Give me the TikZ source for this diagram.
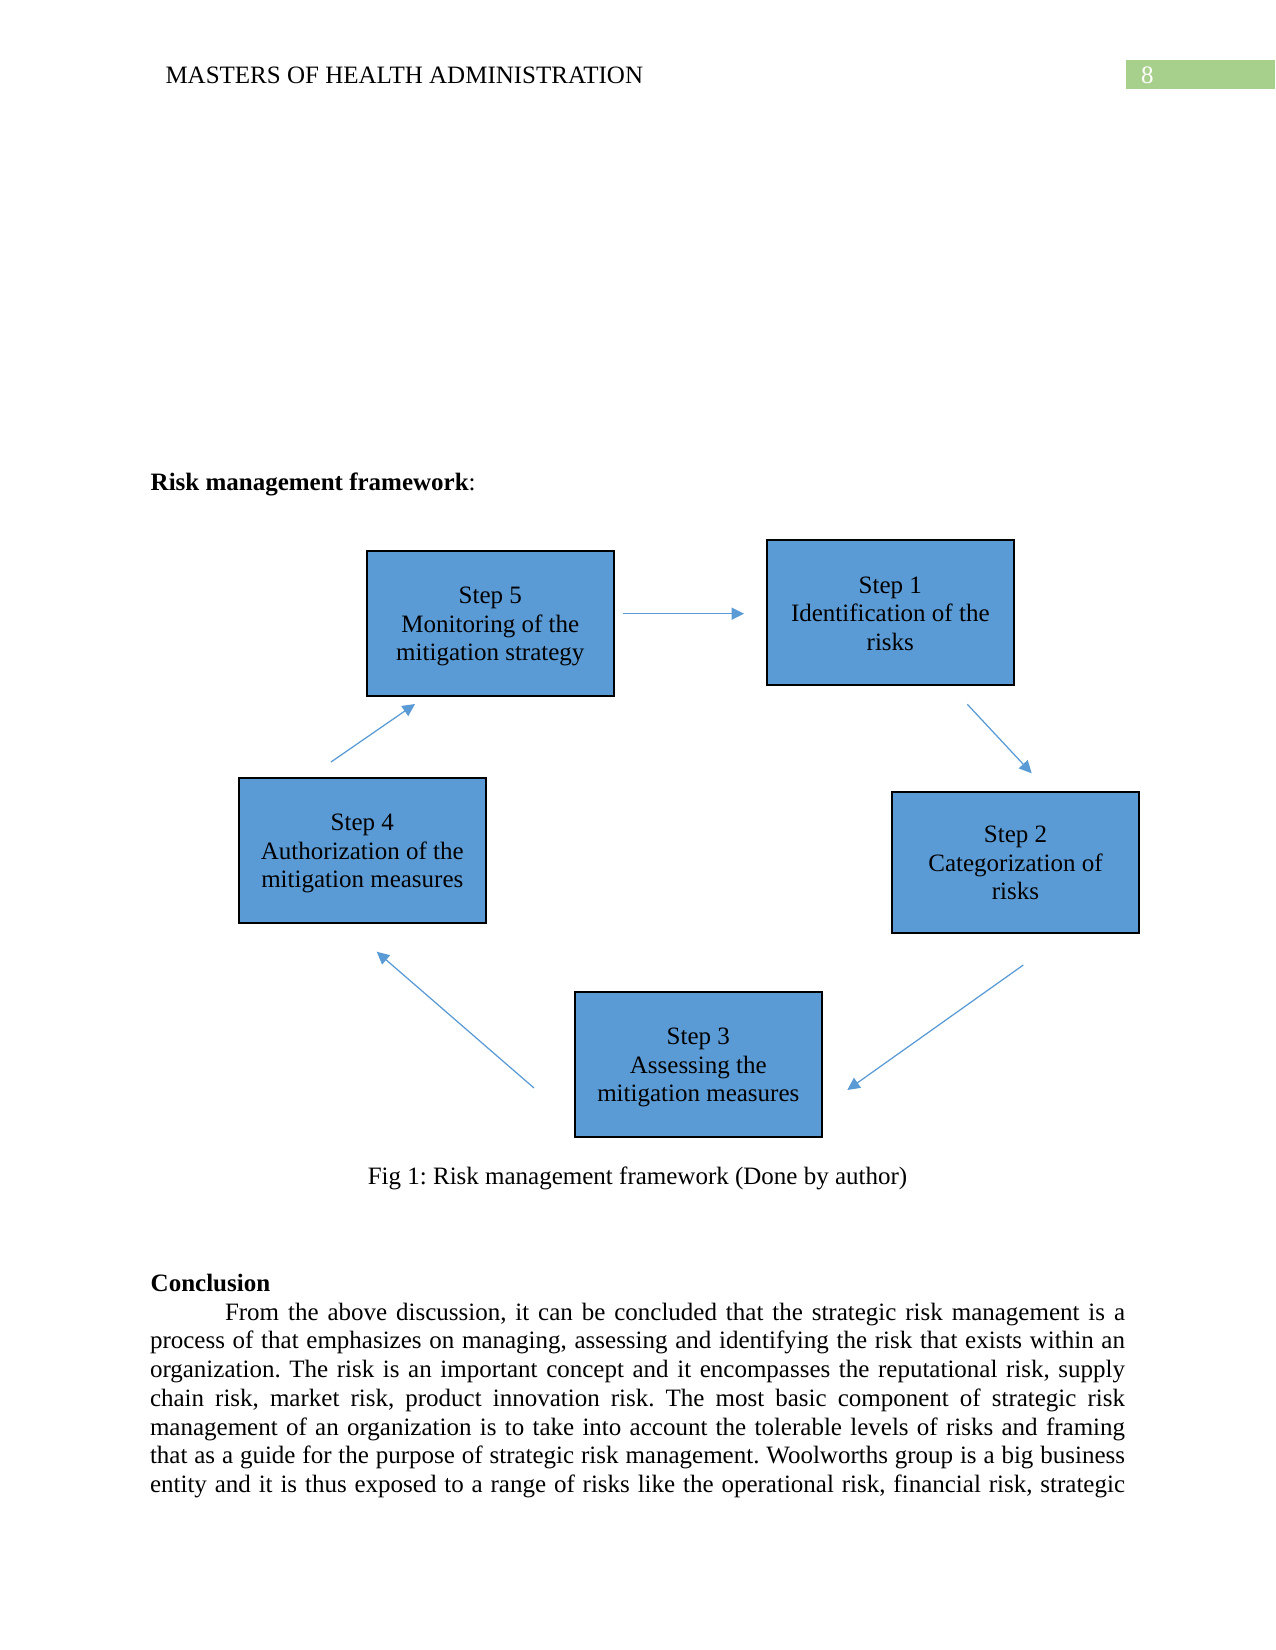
\documentclass[tikz,border=0pt]{standalone}
\usepackage{fontspec}
\setmainfont{Liberation Serif}
\usetikzlibrary{arrows.meta}
\definecolor{boxblue}{HTML}{5B9BD5}
\definecolor{bargreen}{HTML}{A8D08D}
\newcommand\rmfboxtext[3]{\rule{0pt}{11.5pt}#1\\#2\\#3\rule[-2.9pt]{0pt}{2.9pt}}
\frenchspacing
\begin{document}
\begin{tikzpicture}[x=0.48pt,y=-0.48pt,
  every node/.style={font=\fontsize{12pt}{13.8pt}\selectfont\frenchspacing, inner sep=0pt, outer sep=0pt},
  stepbox/.style={draw=black, line width=1pt, fill=boxblue, minimum width=118.7pt, minimum height=69.6pt, align=center},
  flow/.style={draw=boxblue, line width=0.6pt, -{Triangle[length=6pt,width=5.8pt]}},
  bodyline/.style={anchor=base west}]
\path[use as bounding box, fill=white] (0,0) rectangle (1275,1650);

% header
\node[anchor=base west] (header) at (165.5,83.3) {MASTERS OF HEALTH ADMINISTRATION};
\node[anchor=north west, fill=bargreen, minimum width=71.5pt, minimum height=13.7pt] (greenbar) at (1126,60.5) {};
\node[anchor=base west, text=white] (pagenum) at (1141,83.3) {8};

% section title
\node[anchor=base west] (title) at (150.7,490.7) {\textbf{Risk management framework}:};

% boxes
\node[stepbox] (s5) at (490.3,623.2) {\rmfboxtext{Step 5}{Monitoring of the}{mitigation strategy}};
\node[stepbox] (s1) at (890.3,612.9) {\rmfboxtext{Step 1}{Identification of the}{risks}};
\node[stepbox, minimum height=67.7pt] (s2) at (1015.5,862.2) {\rmfboxtext{Step 2}{Categorization of}{risks}};
\node[stepbox] (s4) at (362.3,850.2) {\rmfboxtext{Step 4}{Authorization of the}{mitigation measures}};
\node[stepbox] (s3) at (698.3,1064.2) {\rmfboxtext{Step 3}{Assessing the}{mitigation measures}};

% connector end points
\coordinate (a51s) at (622.7,613.7);
\coordinate (a51e) at (744,613.7);
\coordinate (a12s) at (967.3,704.3);
\coordinate (a12e) at (1031.7,773.3);
\coordinate (a23s) at (1023.3,965);
\coordinate (a23e) at (847.3,1090);
\coordinate (a34s) at (534,1088);
\coordinate (a34e) at (376.7,951.7);
\coordinate (a45s) at (331,762);
\coordinate (a45e) at (415,704);

\draw[flow] (a51s) -- (a51e);
\draw[flow] (a12s) -- (a12e);
\draw[flow] (a23s) -- (a23e);
\draw[flow] (a34s) -- (a34e);
\draw[flow] (a45s) -- (a45e);

% caption
\node[anchor=base] (caption) at (637.5,1184) {Fig 1: Risk management framework (Done by author)};

% conclusion
\node[anchor=base west] (conc) at (150.7,1291.7) {\textbf{Conclusion}};
\node[bodyline] (p1) at (225,1320) {\makebox[432pt][s]{From the above discussion, it can be concluded that the strategic risk management is a}};
\node[bodyline] (p2) at (150,1348.75) {\makebox[468pt][s]{process of that emphasizes on managing, assessing and identifying the risk that exists within an}};
\node[bodyline] (p3) at (150,1377.5) {\makebox[468pt][s]{organization. The risk is an important concept and it encompasses the reputational risk, supply}};
\node[bodyline] (p4) at (150,1406.25) {\makebox[468pt][s]{chain risk, market risk, product innovation risk. The most basic component of strategic risk}};
\node[bodyline] (p5) at (150,1435) {\makebox[468pt][s]{management of an organization is to take into account the tolerable levels of risks and framing}};
\node[bodyline] (p6) at (150,1463.75) {\makebox[468pt][s]{that as a guide for the purpose of strategic risk management. Woolworths group is a big business}};
\node[bodyline] (p7) at (150,1492.5) {\makebox[468pt][s]{entity and it is thus exposed to a range of risks like the operational risk, financial risk, strategic}};
\end{tikzpicture}
\end{document}
